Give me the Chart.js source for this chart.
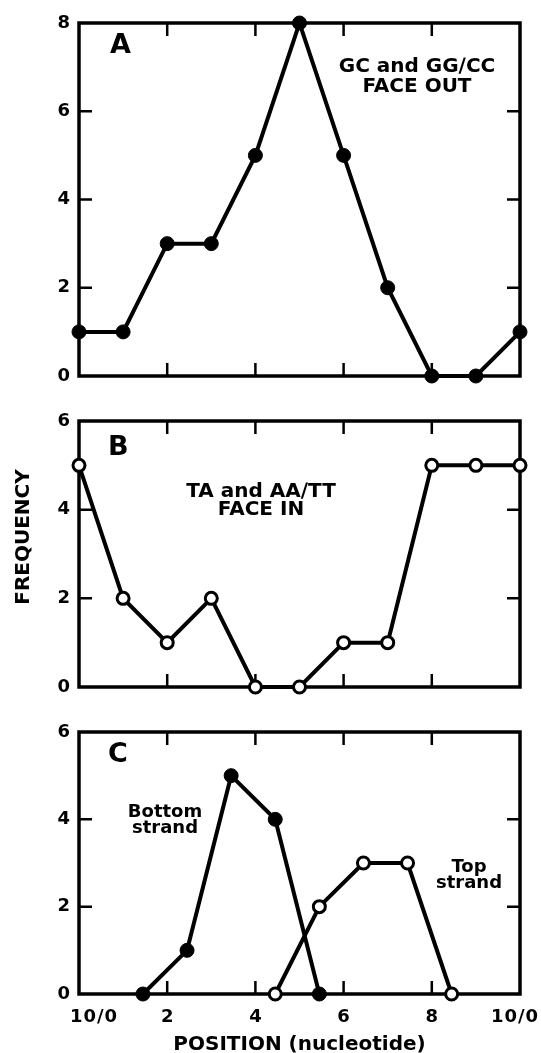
<!DOCTYPE html>
<html>
<head>
<meta charset="utf-8">
<script src="https://cdn.jsdelivr.net/npm/chart.js@4.4.1/dist/chart.umd.min.js"></script>
<style>
  html, body { margin: 0; padding: 0; background: #fff; }
  body { width: 541px; height: 1053px; position: relative; overflow: hidden; }
  canvas { position: absolute; left: 0; }
</style>
</head>
<body>
<canvas id="panelA" width="541" height="400" style="top:0px"></canvas>
<canvas id="panelB" width="541" height="310" style="top:400px"></canvas>
<canvas id="panelC" width="541" height="343" style="top:710px"></canvas>
<script>
// positions along the helical turn (nucleotide)
const positions = [0, 1, 2, 3, 4, 5, 6, 7, 8, 9, 10];

// A: GC and GG/CC face out
const faceOutValues = [1, 1, 3, 3, 5, 8, 5, 2, 0, 0, 1];

// B: TA and AA/TT face in
const faceInValues = [5, 2, 1, 2, 0, 0, 1, 1, 5, 5, 5];

// C: bottom / top strand
const bottomPositions = [1.45, 2.45, 3.45, 4.45, 5.45];
const bottomValues = [0, 1, 5, 4, 0];
const topPositions = [4.45, 5.45, 6.45, 7.45, 8.45];
const topValues = [0, 2, 3, 3, 0];

// axis ticks
const xTicks = [0, 2, 4, 6, 8, 10];
const xTickLabels = ['10/0', '2', '4', '6', '8', '10/0'];
const yTicksA = [0, 2, 4, 6, 8];
const yTicksBC = [0, 2, 4, 6];

const FONT = '"DejaVu Sans", "Liberation Sans", Arial, sans-serif';

function toPoints(xs, ys) {
    return xs.map((x, i) => ({ x: x, y: ys[i] }));
}

function lineSet(xs, ys, open) {
    return {
        data: toPoints(xs, ys),
        borderColor: '#000',
        borderWidth: 4,
        tension: 0,
        pointRadius: open ? 6 : 7,
        pointHoverRadius: open ? 6 : 7,
        pointBackgroundColor: open ? '#fff' : '#000',
        pointBorderColor: '#000',
        pointBorderWidth: open ? 3 : 1,
        clip: false
    };
}

// frame + inward tick marks, drawn before the lines so the dots sit on top
const framePlugin = {
    id: 'frame',
    beforeDatasetsDraw(chart, args, opts) {
        const { ctx, chartArea: a, scales } = chart;
        ctx.save();
        ctx.strokeStyle = '#000';
        ctx.lineWidth = 2.5;
        const len = 13;
        xTicks.slice(1, -1).forEach(v => {
            const px = scales.x.getPixelForValue(v);
            ctx.beginPath();
            ctx.moveTo(px, a.top); ctx.lineTo(px, a.top + len);
            ctx.moveTo(px, a.bottom); ctx.lineTo(px, a.bottom - len);
            ctx.stroke();
        });
        opts.yTicks.slice(1, -1).forEach(v => {
            const py = scales.y.getPixelForValue(v);
            ctx.beginPath();
            ctx.moveTo(a.left, py); ctx.lineTo(a.left + len, py);
            ctx.moveTo(a.right, py); ctx.lineTo(a.right - len, py);
            ctx.stroke();
        });
        ctx.lineWidth = 3.5;
        ctx.strokeRect(a.left, a.top, a.right - a.left, a.bottom - a.top);
        ctx.restore();
    }
};

// panel letters and in-plot notes
const notesPlugin = {
    id: 'notes',
    afterDraw(chart, args, opts) {
        const ctx = chart.ctx;
        ctx.save();
        ctx.fillStyle = '#000';
        ctx.textBaseline = 'alphabetic';
        ctx.font = 'bold 27px ' + FONT;
        ctx.textAlign = 'left';
        ctx.fillText(opts.letter[0], opts.letter[1], opts.letter[2]);
        (opts.texts || []).forEach(t => {
            ctx.font = 'bold ' + t.size + 'px ' + FONT;
            ctx.textAlign = 'center';
            ctx.fillText(t.text, t.x, t.y);
        });
        if (opts.yTitle) {
            ctx.save();
            ctx.translate(opts.yTitle.x, opts.yTitle.y);
            ctx.rotate(-Math.PI / 2);
            ctx.font = 'bold 20px ' + FONT;
            ctx.textAlign = 'center';
            ctx.textBaseline = 'middle';
            ctx.fillText('FREQUENCY', 0, 0);
            ctx.restore();
        }
        if (opts.xLabels) {
            const xs = chart.scales.x;
            ctx.font = 'bold 18px ' + FONT;
            ctx.textAlign = 'center';
            xTicks.forEach((v, i) => {
                let px = xs.getPixelForValue(v);
                if (i === 0) px += 15;
                if (i === xTicks.length - 1) px -= 5;
                ctx.letterSpacing = xTickLabels[i].length > 1 ? '1px' : '0px';
                ctx.fillText(xTickLabels[i], px, chart.chartArea.bottom + 28);
            });
            ctx.letterSpacing = '0px';
            ctx.font = 'bold 20px ' + FONT;
            ctx.fillText('POSITION (nucleotide)', (chart.chartArea.left + chart.chartArea.right) / 2, chart.chartArea.bottom + 56);
        }
        ctx.restore();
    }
};

function makePanel(id, datasets, yMax, yTicks, padding, notes) {
    return new Chart(document.getElementById(id), {
        type: 'line',
        data: { datasets: datasets },
        plugins: [framePlugin, notesPlugin],
        options: {
            responsive: false,
            animation: false,
            devicePixelRatio: 1,
            layout: { padding: padding },
            plugins: {
                legend: { display: false },
                tooltip: { enabled: false },
                frame: { yTicks: yTicks },
                notes: notes
            },
            scales: {
                x: {
                    type: 'linear',
                    min: 0,
                    max: 10,
                    display: false
                },
                y: {
                    min: 0,
                    max: yMax,
                    afterFit: s => { s.width = 79; },
                    border: { display: false },
                    grid: { display: false, drawTicks: false },
                    ticks: {
                        stepSize: 2,
                        padding: 9,
                        color: '#000',
                        font: { family: FONT, weight: 'bold', size: 18 }
                    }
                }
            }
        }
    });
}

makePanel('panelA', [lineSet(positions, faceOutValues, false)], 8, yTicksA,
    { top: 23, bottom: 24, left: 0, right: 21 },
    {
        letter: ['A', 110, 53],
        texts: [
            { text: 'GC and GG\u2215CC', x: 417, y: 72, size: 20 },
            { text: 'FACE OUT', x: 417, y: 92, size: 20 }
        ]
    });

makePanel('panelB', [lineSet(positions, faceInValues, true)], 6, yTicksBC,
    { top: 21, bottom: 23, left: 0, right: 21 },
    {
        letter: ['B', 108, 55],
        texts: [
            { text: 'TA and AA\u2215TT', x: 261, y: 97, size: 20 },
            { text: 'FACE IN', x: 261, y: 115, size: 20 }
        ],
        yTitle: { x: 24, y: 137 }
    });

makePanel('panelC', [
        lineSet(bottomPositions, bottomValues, false),
        lineSet(topPositions, topValues, true)
    ], 6, yTicksBC,
    { top: 22, bottom: 59, left: 0, right: 21 },
    {
        letter: ['C', 108, 52],
        texts: [
            { text: 'Bottom', x: 165, y: 107, size: 18 },
            { text: 'strand', x: 165, y: 123, size: 18 },
            { text: 'Top', x: 469, y: 162, size: 18 },
            { text: 'strand', x: 469, y: 178, size: 18 }
        ],
        xLabels: true
    });
</script>
</body>
</html>
